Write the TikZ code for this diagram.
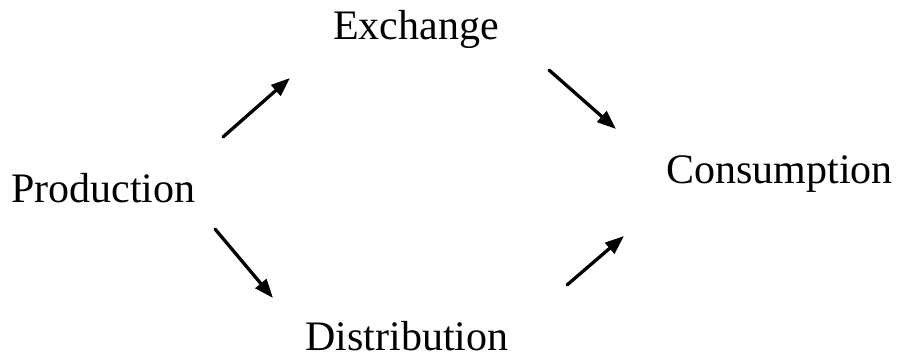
\documentclass[tikz,border=0pt]{standalone}
\usepackage{fontspec}
\setmainfont{Liberation Serif}
\usetikzlibrary{positioning,arrows.meta}

\begin{document}
\begin{tikzpicture}[x=1pt,y=-1pt,every node/.style = {inner sep=0pt, font=\fontsize{42}{48}\selectfont},flow/.style={line width=3.3pt, line cap=round, -{Triangle[length=19pt,width=14pt]}}]
\useasboundingbox (0,0) rectangle (904,361);
\node[anchor=base] (exch) at (416,40) {Exchange};
\node[anchor=base west] (prod) at (11,202) {Production};
\node[anchor=base east] (cons) at (893,183) {Consumption};
\node[anchor=base] (dist) at (407,350) {Distribution};
% arrow ends
\coordinate (pe1) at (223,137); \coordinate (pe2) at (290,78);
\coordinate (ec1) at (549,70);  \coordinate (ec2) at (616,129);
\coordinate (pd1) at (215,229); \coordinate (pd2) at (273,298);
\coordinate (dc1) at (567,285); \coordinate (dc2) at (624,236);
\draw[flow] (pe1) -- (pe2);
\draw[flow] (ec1) -- (ec2);
\draw[flow] (pd1) -- (pd2);
\draw[flow] (dc1) -- (dc2);
\end{tikzpicture}
\end{document}
